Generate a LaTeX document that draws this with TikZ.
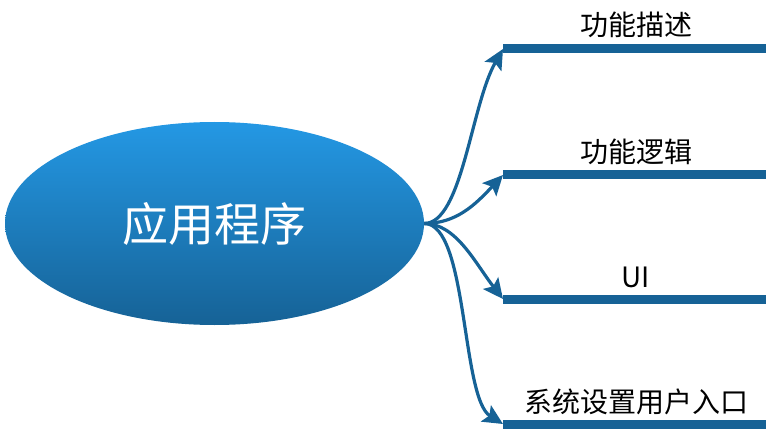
\documentclass[tikz,border=0pt]{standalone}
\usepackage{fontspec}
\usepackage{tikz}
\usetikzlibrary{shapes.geometric,arrows.meta}
\newfontfamily\cjk{Noto Sans CJK SC}
\definecolor{barBlue}{RGB}{22,98,150}
\definecolor{rootTop}{RGB}{36,152,228}
\definecolor{rootBot}{RGB}{22,98,150}
\tikzset{
  bar/.style={fill=barBlue,minimum width=263pt,minimum height=9pt,inner sep=0pt,anchor=west},
  lbl/.style={font=\cjk\fontsize{28}{30}\selectfont,inner sep=0pt,text=black},
  link/.style={draw=barBlue,line width=3.2pt,-{Stealth[length=20pt,width=19pt,inset=4pt]}}
}

\begin{document}
\begin{tikzpicture}[x=1pt,y=-1pt]
 \useasboundingbox (0,0) rectangle (782,441);
 \node (app) [ellipse,top color=rootTop,bottom color=rootBot,minimum width=419pt,minimum height=203pt,inner sep=0pt,
   text=white,font=\cjk\fontsize{46}{50}\selectfont] at (214.5,223.5) {应用程序};
 \node (b1) [bar] at (503,49) {};
 \node (b2) [bar] at (503,175) {};
 \node (b3) [bar] at (503,299) {};
 \node (b4) [bar] at (503,424) {};
 \node (l1) [lbl] at (636,25) {功能描述};
 \node (l2) [lbl] at (636,152) {功能逻辑};
 \node (l3) [lbl] at (636,277) {UI};
 \node (l4) [lbl] at (636,402) {系统设置用户入口};
 \path[link]
   (app.east) .. controls +(38,0) and +(-32,56) .. (b1.west);
 \path[link]
   (app.east) .. controls +(32,0) and +(-28,30) .. (b2.west);
 \path[link]
   (app.east) .. controls +(32,0) and +(-28,-36) .. (b3.west);
 \path[link]
   (app.east) .. controls +(44,0) and +(-42,-26) .. (b4.west);
\end{tikzpicture}
\end{document}
